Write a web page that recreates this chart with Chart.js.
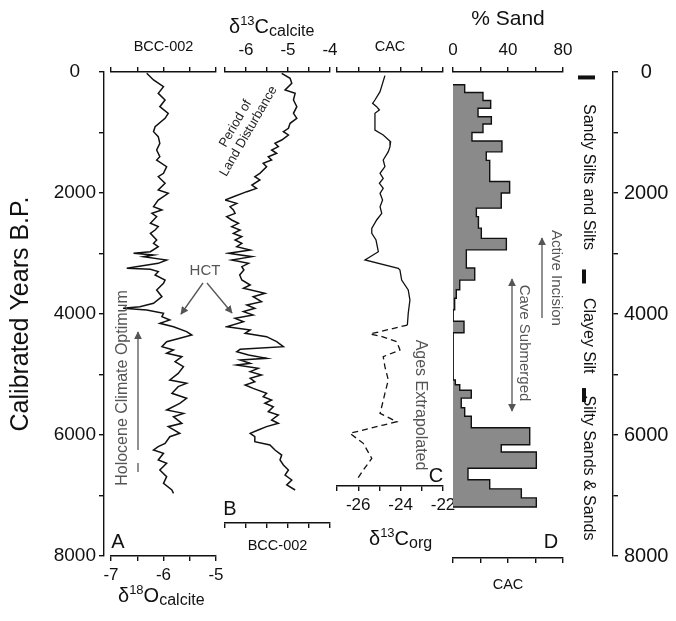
<!DOCTYPE html>
<html>
<head>
<meta charset="utf-8">
<script src="https://cdn.jsdelivr.net/npm/chart.js@4.4.1/dist/chart.umd.min.js"></script>
<style>
  html, body { margin: 0; padding: 0; background: #fff; }
  #fig { position: relative; width: 676px; height: 621px; overflow: hidden; }
  #fig canvas { position: absolute; }
  #notes { position: absolute; left: 0; top: 0; pointer-events: none;
           font-family: "Liberation Sans", Arial, Helvetica, sans-serif; }
</style>
</head>
<body>
<div id="fig">
  <canvas id="axisLeft"></canvas>
  <canvas id="panelA"></canvas>
  <canvas id="panelB"></canvas>
  <canvas id="panelC"></canvas>
  <canvas id="panelD"></canvas>
  <canvas id="axisRight"></canvas>
  <svg id="notes" width="676" height="621">
    <defs>
      <marker id="head" viewBox="0 0 10 10" refX="9" refY="5" markerWidth="6" markerHeight="6" orient="auto-start-reverse">
        <path d="M0,0 L10,5 L0,10 z" fill="#555"/>
      </marker>
    </defs>
    <!-- axis titles with sub/superscripts -->
    <text x="229" y="33" font-size="20" fill="#111">δ<tspan font-size="13" dy="-8">13</tspan><tspan dy="8">C</tspan><tspan font-size="16" dy="3">calcite</tspan></text>
    <text x="118" y="602" font-size="20" fill="#111">δ<tspan font-size="13" dy="-8">18</tspan><tspan dy="8">O</tspan><tspan font-size="16" dy="3">calcite</tspan></text>
    <text x="369" y="545" font-size="20" fill="#111">δ<tspan font-size="13" dy="-8">13</tspan><tspan dy="8">C</tspan><tspan font-size="16" dy="3">org</tspan></text>
    <!-- panel letters -->
    <g font-size="20" fill="#111" text-anchor="middle" dominant-baseline="central">
      <text x="118" y="541">A</text>
      <text x="230" y="508">B</text>
      <text x="436" y="475">C</text>
      <text x="551" y="541">D</text>
    </g>
    <!-- notes -->
    <g stroke="#555" stroke-width="1.3" fill="none">
      <line x1="138" y1="450" x2="138" y2="332" marker-end="url(#head)"/>
      <line x1="138" y1="463" x2="138" y2="472"/>
      <line x1="203" y1="283" x2="181" y2="314" marker-end="url(#head)"/>
      <line x1="207" y1="283" x2="232" y2="313" marker-end="url(#head)"/>
      <line x1="542" y1="318" x2="542" y2="238" marker-end="url(#head)"/>
      <line x1="512" y1="279" x2="512" y2="411" marker-start="url(#head)" marker-end="url(#head)"/>
    </g>
    <g fill="#555" text-anchor="middle" dominant-baseline="central">
      <text font-size="16" transform="translate(121,388) rotate(-90)">Holocene Climate Optimum</text>
      <text font-size="15" x="205" y="269">HCT</text>
      <text font-size="16" transform="translate(421,405) rotate(90)">Ages Extrapolated</text>
      <text font-size="15" transform="translate(557,278) rotate(90)">Active Incision</text>
      <text font-size="15" transform="translate(525,343) rotate(90)">Cave Submerged</text>
    </g>
    <g fill="#222" font-size="13" text-anchor="middle" transform="translate(243,128) rotate(-60)">
      <text x="0" y="-5">Period of</text>
      <text x="0" y="10">Land Disturbance</text>
    </g>
  </svg>
</div>
<script>
// ---- data -------------------------------------------------------------
// A: BCC-002 stalagmite, d18O of calcite
const ageA = [22,132,242,353,463,573,683,766,904,986,1069,1179,1289,1400,1455,1565,1675,1730,1840,1950,
  2005,2116,2226,2281,2336,2391,2501,2556,2612,2667,2777,2832,2887,2970,2997,3025,3052,3107,3163,3245,
  3262,3300,3355,3438,3493,3603,3714,3824,3879,3906,3934,3989,4044,4099,4154,4210,4292,4347,4402,4457,
  4540,4595,4650,4705,4788,4871,4981,5091,5146,5201,5311,5394,5476,5587,5642,5697,5807,5862,5972,6028,
  6138,6193,6248,6303,6413,6468,6579,6689,6799,6909,6964];
const d18O = [-6.32,-6.19,-6.00,-6.10,-5.97,-6.07,-5.91,-5.97,-6.16,-6.19,-6.10,-6.07,-6.13,-6.07,-6.13,-5.94,-6.00,-6.10,-5.97,-6.10,
  -5.91,-6.10,-6.19,-6.03,-6.22,-6.13,-6.25,-6.10,-6.16,-6.25,-6.13,-6.19,-6.10,-6.25,-6.57,-6.19,-6.38,-5.94,-6.10,-6.70,
  -6.25,-6.10,-6.16,-5.97,-6.00,-6.13,-6.03,-6.19,-6.45,-6.77,-6.32,-6.00,-6.03,-5.88,-6.07,-5.81,-5.56,-5.46,-5.69,-5.94,
  -6.03,-5.81,-5.94,-5.65,-5.78,-5.62,-5.72,-5.88,-5.56,-5.72,-5.84,-5.56,-5.69,-5.94,-5.62,-5.81,-5.65,-5.91,-5.69,-5.88,
  -5.97,-6.10,-6.19,-6.00,-6.10,-5.94,-6.07,-5.94,-6.00,-5.84,-5.81];

// B: BCC-002, d13C of calcite
const ageB = [22,105,187,298,353,463,573,683,766,848,931,986,1041,1124,1179,1234,1289,1344,1400,1455,
  1510,1565,1675,1730,1785,1868,1923,1978,2061,2116,2171,2226,2281,2336,2391,2446,2501,2556,2612,2667,
  2722,2777,2832,2887,2942,2997,3052,3107,3163,3218,3273,3355,3438,3521,3576,3658,3714,3796,3851,3906,
  3961,4017,4072,4127,4210,4264,4320,4375,4457,4540,4584,4623,4678,4733,4760,4815,4843,4898,4953,5008,
  5063,5119,5174,5229,5311,5366,5421,5476,5532,5614,5669,5752,5807,5862,5917,5972,6028,6110,6165,6248,
  6331,6413,6496,6579,6661,6744,6826,6909];
const d13Ccalcite = [-5.15,-4.95,-4.91,-5.07,-4.83,-4.87,-4.79,-4.87,-4.79,-4.95,-4.99,-5.11,-4.99,-5.15,-5.31,-5.23,-5.39,-5.27,-5.47,-5.39,
  -5.59,-5.51,-5.67,-5.79,-5.67,-5.86,-5.75,-5.98,-6.30,-6.50,-6.22,-6.38,-6.30,-6.26,-6.46,-6.34,-6.18,-6.34,-6.14,-6.30,
  -6.10,-6.26,-6.10,-6.22,-5.90,-6.42,-5.86,-6.34,-5.94,-6.10,-6.05,-6.15,-6.10,-5.90,-6.06,-5.55,-5.83,-5.63,-5.98,-5.79,
  -6.06,-5.83,-6.26,-6.06,-6.46,-5.90,-6.02,-5.51,-5.27,-5.11,-6.14,-6.22,-5.94,-5.51,-6.14,-5.90,-6.22,-5.71,-5.90,-5.63,
  -5.90,-5.79,-6.02,-5.83,-5.51,-5.59,-5.39,-5.55,-5.35,-5.47,-5.23,-5.39,-5.23,-5.51,-5.71,-5.90,-5.79,-5.79,-5.43,-5.31,
  -5.15,-5.19,-5.11,-4.99,-5.07,-4.91,-5.03,-4.83];

// C: CAC core, d13C of organic matter (ages past 4182 yr are extrapolated)
const ageC = [60,325,463,518,573,628,683,959,1041,1152,1234,1317,1455,1565,1675,1758,1840,1923,2005,2116,
  2226,2336,2446,2584,2667,2777,2970,3107,3245,3273,3438,3603,3769,3989,4182,4331,4364,4457,4595,4705,
  4871,5091,5311,5532,5642,5780,5835,5972,6138,6386,6579,6744];
const d13Corg = [-24.74,-24.97,-25.21,-25.32,-25.13,-25.00,-25.21,-25.21,-24.82,-24.47,-24.50,-24.58,-24.82,-24.74,-24.97,-24.82,-25.00,-24.82,-24.97,-24.85,
  -24.97,-24.89,-25.13,-25.36,-25.36,-25.16,-25.05,-25.68,-24.11,-24.03,-23.95,-23.64,-23.56,-23.64,-23.68,-25.44,-24.97,-24.18,-24.03,-24.82,
  -24.74,-24.58,-24.74,-24.89,-24.97,-24.18,-24.82,-26.39,-25.76,-25.36,-25.76,-26.07];
const extrapolatedFrom = 4182;

// D: CAC core, % sand per sampled interval (interval tops, last base)
const sandTop = [210,340,470,600,740,860,1000,1140,1320,1460,1810,2000,2250,2390,2580,2750,2940,3240,3440,3600,
  3740,3930,4120,4310,5090,5170,5260,5390,5550,5690,5880,6160,6280,6550,6740,6890,7040];
const sandBase = 7190;
const sandPct = [8.5,21.8,27.4,18.2,27.9,21.8,13.8,35.6,24.2,26.7,41.2,35.1,17.0,18.5,20.6,38.8,9.7,15.8,4.9,2.4,
  1.2,0,8.0,0,1.7,4.9,13.3,6.0,8.5,13.3,55.8,35.1,60.6,10.9,26.7,49.7,60.6];

// lithology units
const lithNames = ['Sandy Silts and Silts', 'Clayey Silt', 'Silty Sands & Sands'];
const lithTop = [90, 3380, 5340];
const lithBase = [3380, 5340, 7750];

// ---- layout ------------------------------------------------------------
const INK = '#111';
const TOP = 72;                       // pixel row of 0 yr B.P.
const PX_PER_YR = (556 - TOP) / 8000;

Chart.defaults.font.family = '"Liberation Sans", Arial, Helvetica, sans-serif';
Chart.defaults.color = INK;
Chart.defaults.animation = false;
Chart.defaults.responsive = false;
Chart.defaults.events = [];
Chart.defaults.plugins.legend.display = false;
Chart.defaults.plugins.tooltip.enabled = false;

const pts = (xs, ys) => xs.map((v, i) => ({x: v, y: ys[i]}));

function xAxis(position, o) {
  return {
    type: 'linear', axis: 'x', position,
    min: o.min, max: o.max,
    afterFit: s => { s.height = o.height; },
    border: {display: true, color: INK, width: 1.4},
    grid: {drawOnChartArea: false, drawTicks: true, tickLength: 5, color: INK, lineWidth: 1.4},
    ticks: {stepSize: o.step, autoSkip: false, maxRotation: 0, padding: o.pad || 4,
            font: {size: 17}, callback: o.labels || (() => '')},
    title: o.title
      ? {display: true, text: o.title, padding: 0, font: {size: o.titleSize || 14.5}}
      : {display: false}
  };
}

function panel(id, box, scales, datasets) {
  const pad = 22;
  const cv = document.getElementById(id);
  cv.width = box.right - box.left + 2 * pad;
  cv.height = box.topH + (box.bottom - TOP) + box.botH;
  cv.style.left = (box.left - pad) + 'px';
  cv.style.top = (TOP - box.topH) + 'px';
  return new Chart(cv, {
    type: 'line',
    data: {datasets},
    options: {
      indexAxis: 'y',
      layout: {padding: {left: pad, right: pad, top: 0, bottom: 0}},
      scales: Object.assign({
        y: {type: 'linear', reverse: true, min: 0, max: (box.bottom - TOP) / PX_PER_YR, display: false}
      }, scales)
    }
  });
}

const curve = (data, extra) => Object.assign({
  data, borderColor: INK, borderWidth: 1.5, pointRadius: 0, tension: 0, fill: false
}, extra || {});

const intLabel = v => Number.isInteger(v) ? String(v) : '';

panel('panelA', {left: 111, right: 216, bottom: 556, topH: 34, botH: 32}, {
  x: xAxis('bottom', {min: -7, max: -5, step: 0.5, height: 32, labels: intLabel}),
  xTop: xAxis('top', {min: -7, max: -5, step: 0.5, height: 34, title: 'BCC-002'})
}, [curve(pts(d18O, ageA))]);

panel('panelB', {left: 225, right: 330, bottom: 523, topH: 34, botH: 32}, {
  x: xAxis('bottom', {min: -6.5, max: -4, step: 0.5, height: 32, title: 'BCC-002'}),
  xTop: xAxis('top', {min: -6.5, max: -4, step: 0.5, height: 34, labels: intLabel, pad: 6})
}, [curve(pts(d13Ccalcite, ageB))]);

panel('panelC', {left: 337, right: 443, bottom: 486, topH: 34, botH: 30}, {
  x: xAxis('bottom', {min: -27, max: -22, step: 1, height: 30, labels: v => v % 2 === 0 ? String(v) : ''}),
  xTop: xAxis('top', {min: -27, max: -22, step: 1, height: 34, title: 'CAC'})
}, [curve(pts(d13Corg, ageC), {
  borderWidth: 1.3,
  segment: {borderDash: ctx => ctx.p0.parsed.y >= extrapolatedFrom ? [6, 4] : undefined}
})]);

// histogram outline: stepped line through interval tops, filled to 0 %
const sandOutline = [{x: 0, y: sandTop[0]}];
sandPct.forEach((v, i) => sandOutline.push({x: v, y: sandTop[i]}));
sandOutline.push({x: sandPct[sandPct.length - 1], y: sandBase}, {x: 0, y: sandBase});

panel('panelD', {left: 453, right: 563, bottom: 558, topH: 65, botH: 36}, {
  x: xAxis('bottom', {min: 0, max: 80, step: 20, height: 36, title: 'CAC'}),
  xTop: xAxis('top', {min: 0, max: 80, step: 20, height: 65, pad: 6,
                      labels: v => v % 40 === 0 ? String(v) : '', title: '% Sand', titleSize: 21})
}, [
  curve(sandOutline, {stepped: 'after', fill: 'origin', backgroundColor: '#8a8a8a', borderWidth: 1.4}),
  curve([{x: 0, y: sandTop[0]}, {x: 0, y: sandBase}], {borderWidth: 1.4})
]);

// ---- age axes ------------------------------------------------------------
function ageAxis(id, left, width, side, axisWidth, o, plugins) {
  const cv = document.getElementById(id);
  cv.width = width;
  cv.height = 621;
  cv.style.left = left + 'px';
  cv.style.top = '0px';
  return new Chart(cv, {
    type: 'line',
    data: {datasets: []},
    options: {
      layout: {padding: {top: TOP, bottom: 621 - 556, left: 0, right: 0}},
      scales: {
        x: {display: false},
        y: {
          type: 'linear', position: side, reverse: true, min: 0, max: 8000,
          afterFit: s => { s.width = axisWidth; },
          border: {display: true, color: INK, width: 1.4},
          grid: {drawOnChartArea: false, tickLength: 5, color: INK, lineWidth: 1.4},
          ticks: {stepSize: 1000, autoSkip: false, crossAlign: 'center', padding: o.pad,
                  font: {size: o.size}, callback: v => v % 2000 === 0 ? String(v) : ''},
          title: o.title
            ? {display: true, text: o.title, font: {size: 25}, padding: {top: 6, bottom: 0}}
            : {display: false}
        }
      }
    },
    plugins: plugins || []
  });
}

const lithology = {
  id: 'lithology',
  afterDraw(chart) {
    const {ctx} = chart;
    const y = chart.scales.y;
    ctx.save();
    ctx.fillStyle = INK;
    ctx.font = '16px "Liberation Sans", Arial, sans-serif';
    ctx.textAlign = 'center';
    ctx.textBaseline = 'middle';
    lithNames.forEach((name, i) => {
      const yTop = y.getPixelForValue(lithTop[i]);
      if (i === 0) ctx.fillRect(8, yTop - 2, 17, 4);
      else ctx.fillRect(12, yTop - 7, 4, 14);
      ctx.save();
      ctx.translate(18, y.getPixelForValue((lithTop[i] + lithBase[i]) / 2));
      ctx.rotate(Math.PI / 2);
      ctx.fillText(name, 0, 0);
      ctx.restore();
    });
    ctx.restore();
  }
};

ageAxis('axisLeft', 0, 110, 'left', 104, {title: 'Calibrated Years B.P.', size: 19, pad: 3});
ageAxis('axisRight', 570, 106, 'right', 63, {size: 20, pad: 6}, [lithology]);
</script>
</body>
</html>
